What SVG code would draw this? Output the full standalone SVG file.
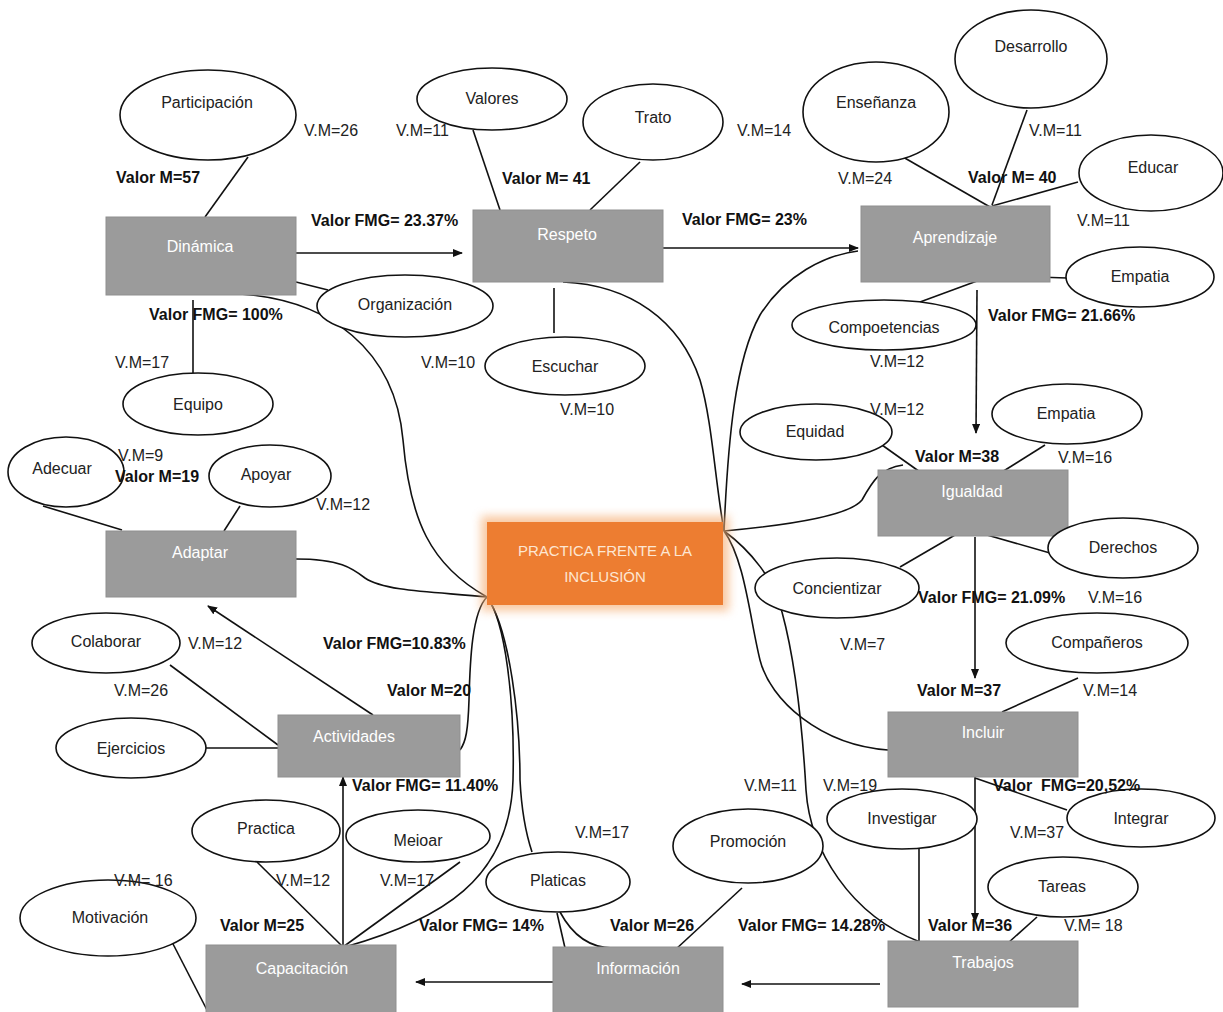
<svg xmlns="http://www.w3.org/2000/svg" width="1223" height="1012" viewBox="0 0 1223 1012">
<style>
  .box{fill:#9b9b9b;stroke:#8f8f8f;stroke-width:1}
  .el{fill:#fff;stroke:#111;stroke-width:1.6}
  .ln{fill:none;stroke:#111;stroke-width:1.6}
  .ar{fill:none;stroke:#111;stroke-width:1.6;marker-end:url(#ah)}
  text{font-family:"Liberation Sans Narrow","Liberation Sans",Arial,sans-serif;font-size:16px}
  .bt{fill:#fff;text-anchor:middle}
  .et{fill:#222;text-anchor:middle}
  .vm{fill:#222}
  .b{fill:#111;font-weight:bold}
  .ct{fill:#fde6d2;text-anchor:middle;font-size:15px}
</style>
<defs>
  <marker id="ah" markerWidth="10" markerHeight="8" refX="9" refY="4" orient="auto" markerUnits="userSpaceOnUse">
    <path d="M0,0 L10,4 L0,8 Z" fill="#111"/>
  </marker>
  <filter id="glow" x="-20%" y="-30%" width="140%" height="160%">
    <feGaussianBlur stdDeviation="5"/>
  </filter>
</defs>
<rect width="1223" height="1012" fill="#fff"/>

<g id="connectors">
  <!-- arrows -->
  <path class="ar" d="M296,253 L462,253"/>
  <path class="ar" d="M663,248 L858,248"/>
  <path class="ar" d="M977,290 L976,433"/>
  <path class="ar" d="M975,537 L975,678"/>
  <path class="ar" d="M975,777 L975,922"/>
  <path class="ar" d="M880,984 L742,984"/>
  <path class="ar" d="M553,982 L416,982"/>
  <path class="ar" d="M343,947 L343,777"/>
  <path class="ar" d="M373,715 L208,606"/>
  <!-- hub curves left -->
  <path class="ln" d="M487,597 C430,565 410,520 403,440 C395,350 330,300 240,294"/>
  <path class="ln" d="M487,597 C440,592 385,592 365,578 C352,568 340,559 296,559"/>
  <path class="ln" d="M487,597 C472,612 470,660 469,700 C468,730 466,742 460,750"/>
  <path class="ln" d="M487,597 C505,620 515,700 513,780 C510,880 440,920 345,947"/>
  <path class="ln" d="M487,597 C510,630 520,720 520,780 C522,820 528,840 532,852"/>
  <!-- hub curves right -->
  <path class="ln" d="M724,531 C715,480 712,420 700,380 C680,320 630,285 563,282"/>
  <path class="ln" d="M724,531 C728,440 735,360 760,315 C785,275 825,255 858,251"/>
  <path class="ln" d="M724,531 C790,525 850,515 862,500 C872,482 880,468 903,465"/>
  <path class="ln" d="M724,531 C745,560 750,620 760,660 C770,700 820,745 888,750"/>
  <path class="ln" d="M724,531 C750,550 775,580 782,612 C795,660 802,720 806,790 C810,850 850,915 920,942"/>
  <!-- spokes -->
  <path class="ln" d="M248,157 L205,217"/>
  <path class="ln" d="M193,300 L193,373"/>
  <path class="ln" d="M296,282 L328,290"/>
  <path class="ln" d="M473,130 L500,210"/>
  <path class="ln" d="M640,162 L590,210"/>
  <path class="ln" d="M554,288 L554,333"/>
  <path class="ln" d="M903,157 L990,207"/>
  <path class="ln" d="M1027,110 L992,205"/>
  <path class="ln" d="M1078,182 L992,206"/>
  <path class="ln" d="M1037,277 L1067,278"/>
  <path class="ln" d="M920,302 L977,281"/>
  <path class="ln" d="M882,445 L920,472"/>
  <path class="ln" d="M1045,445 L1002,472"/>
  <path class="ln" d="M900,567 L967,528"/>
  <path class="ln" d="M987,535 L1050,553"/>
  <path class="ln" d="M1078,678 L1002,712"/>
  <path class="ln" d="M975,778 L1067,810"/>
  <path class="ln" d="M919,849 L919,942"/>
  <path class="ln" d="M1037,917 L1008,943"/>
  <path class="ln" d="M742,888 L675,950"/>
  <path class="ln" d="M557,913 L565,948"/>
  <path class="ln" d="M560,912 C575,940 595,948 613,948"/>
  <path class="ln" d="M257,862 L343,947"/>
  <path class="ln" d="M460,862 L343,947"/>
  <path class="ln" d="M172,942 L207,1010"/>
  <path class="ln" d="M43,506 L122,530"/>
  <path class="ln" d="M240,506 L224,531"/>
  <path class="ln" d="M170,665 L278,745"/>
  <path class="ln" d="M205,748 L278,748"/>
</g>

<g id="n-centro">
  <rect x="481" y="516" width="248" height="95" fill="#f6b27a" opacity="0.7" filter="url(#glow)"/>
  <rect x="487" y="522" width="236" height="83" fill="#ed7d31"/>
  <text class="ct" x="605" y="556">PRACTICA FRENTE A LA</text>
  <text class="ct" x="605" y="582">INCLUSIÓN</text>
</g>

<g id="n-dinamica"><rect class="box" x="106" y="217" width="190" height="78"/><text class="bt" x="200" y="252">Dinámica</text></g>
<g id="n-respeto"><rect class="box" x="473" y="210" width="190" height="72"/><text class="bt" x="567" y="240">Respeto</text></g>
<g id="n-aprendizaje"><rect class="box" x="861" y="206" width="189" height="76"/><text class="bt" x="955" y="243">Aprendizaje</text></g>
<g id="n-igualdad"><rect class="box" x="878" y="470" width="190" height="66"/><text class="bt" x="972" y="497">Igualdad</text></g>
<g id="n-incluir"><rect class="box" x="888" y="712" width="190" height="65"/><text class="bt" x="983" y="738">Incluir</text></g>
<g id="n-trabajos"><rect class="box" x="888" y="941" width="190" height="66"/><text class="bt" x="983" y="968">Trabajos</text></g>
<g id="n-informacion"><rect class="box" x="553" y="947" width="170" height="70"/><text class="bt" x="638" y="974">Información</text></g>
<g id="n-capacitacion"><rect class="box" x="206" y="945" width="190" height="72"/><text class="bt" x="302" y="974">Capacitación</text></g>
<g id="n-actividades"><rect class="box" x="278" y="715" width="182" height="62"/><text class="bt" x="354" y="742">Actividades</text></g>
<g id="n-adaptar"><rect class="box" x="106" y="531" width="190" height="66"/><text class="bt" x="200" y="558">Adaptar</text></g>

<g id="n-participacion"><ellipse class="el" cx="208" cy="115" rx="88" ry="45"/><text class="et" x="207" y="108">Participación</text></g>
<g id="n-valores"><ellipse class="el" cx="492" cy="99" rx="75" ry="31"/><text class="et" x="492" y="104">Valores</text></g>
<g id="n-trato"><ellipse class="el" cx="653" cy="122" rx="70" ry="38"/><text class="et" x="653" y="123">Trato</text></g>
<g id="n-organizacion"><ellipse class="el" cx="405" cy="306" rx="88" ry="31"/><text class="et" x="405" y="310">Organización</text></g>
<g id="n-equipo"><ellipse class="el" cx="198" cy="404" rx="75" ry="31"/><text class="et" x="198" y="410">Equipo</text></g>
<g id="n-escuchar"><ellipse class="el" cx="565" cy="366" rx="80" ry="29"/><text class="et" x="565" y="372">Escuchar</text></g>
<g id="n-ensenanza"><ellipse class="el" cx="876" cy="112" rx="73" ry="50"/><text class="et" x="876" y="108">Enseñanza</text></g>
<g id="n-desarrollo"><ellipse class="el" cx="1031" cy="59" rx="76" ry="49"/><text class="et" x="1031" y="52">Desarrollo</text></g>
<g id="n-educar"><ellipse class="el" cx="1151" cy="173" rx="72" ry="38"/><text class="et" x="1153" y="173">Educar</text></g>
<g id="n-empatia1"><ellipse class="el" cx="1140" cy="277" rx="74" ry="30"/><text class="et" x="1140" y="282">Empatia</text></g>
<g id="n-competencias"><ellipse class="el" cx="884" cy="325" rx="92" ry="25"/><text class="et" x="884" y="333">Compoetencias</text></g>
<g id="n-equidad"><ellipse class="el" cx="816" cy="432" rx="76" ry="28"/><text class="et" x="815" y="437">Equidad</text></g>
<g id="n-empatia2"><ellipse class="el" cx="1067" cy="414" rx="75" ry="30"/><text class="et" x="1066" y="419">Empatia</text></g>
<g id="n-derechos"><ellipse class="el" cx="1123" cy="548" rx="75" ry="30"/><text class="et" x="1123" y="553">Derechos</text></g>
<g id="n-concientizar"><ellipse class="el" cx="837" cy="588" rx="82" ry="30"/><text class="et" x="837" y="594">Concientizar</text></g>
<g id="n-companeros"><ellipse class="el" cx="1097" cy="643" rx="91" ry="30"/><text class="et" x="1097" y="648">Compañeros</text></g>
<g id="n-integrar"><ellipse class="el" cx="1141" cy="818" rx="74" ry="29"/><text class="et" x="1141" y="824">Integrar</text></g>
<g id="n-investigar"><ellipse class="el" cx="902" cy="819" rx="75" ry="30"/><text class="et" x="902" y="824">Investigar</text></g>
<g id="n-tareas"><ellipse class="el" cx="1063" cy="887" rx="75" ry="30"/><text class="et" x="1062" y="892">Tareas</text></g>
<g id="n-promocion"><ellipse class="el" cx="748" cy="846" rx="75" ry="37"/><text class="et" x="748" y="847">Promoción</text></g>
<g id="n-platicas"><ellipse class="el" cx="558" cy="882" rx="72" ry="30"/><text class="et" x="558" y="886">Platicas</text></g>
<g id="n-meioar"><ellipse class="el" cx="418" cy="836" rx="72" ry="26"/><text class="et" x="418" y="846">Meioar</text></g>
<g id="n-practica"><ellipse class="el" cx="266" cy="831" rx="74" ry="31"/><text class="et" x="266" y="834">Practica</text></g>
<g id="n-motivacion"><ellipse class="el" cx="108" cy="918" rx="88" ry="38"/><text class="et" x="110" y="923">Motivación</text></g>
<g id="n-colaborar"><ellipse class="el" cx="106" cy="643" rx="74" ry="30"/><text class="et" x="106" y="647">Colaborar</text></g>
<g id="n-ejercicios"><ellipse class="el" cx="131" cy="748" rx="75" ry="30"/><text class="et" x="131" y="754">Ejercicios</text></g>
<g id="n-adecuar"><ellipse class="el" cx="66" cy="472" rx="58" ry="35"/><text class="et" x="62" y="474">Adecuar</text></g>
<g id="n-apoyar"><ellipse class="el" cx="270" cy="476" rx="61" ry="31"/><text class="et" x="266" y="480">Apoyar</text></g>

<g id="labels">
  <text class="vm" x="304" y="136">V.M=26</text>
  <text class="vm" x="396" y="136">V.M=11</text>
  <text class="b" x="116" y="183">Valor M=57</text>
  <text class="b" x="311" y="226">Valor FMG= 23.37%</text>
  <text class="b" x="502" y="184">Valor M= 41</text>
  <text class="vm" x="737" y="136">V.M=14</text>
  <text class="b" x="682" y="225">Valor FMG= 23%</text>
  <text class="vm" x="838" y="184">V.M=24</text>
  <text class="vm" x="1029" y="136">V.M=11</text>
  <text class="b" x="968" y="183">Valor M= 40</text>
  <text class="vm" x="1077" y="226">V.M=11</text>
  <text class="b" x="988" y="321">Valor FMG= 21.66%</text>
  <text class="vm" x="870" y="367">V.M=12</text>
  <text class="vm" x="870" y="415">V.M=12</text>
  <text class="b" x="915" y="462">Valor M=38</text>
  <text class="vm" x="1058" y="463">V.M=16</text>
  <text class="b" x="918" y="603">Valor FMG= 21.09%</text>
  <text class="vm" x="1088" y="603">V.M=16</text>
  <text class="vm" x="840" y="650">V.M=7</text>
  <text class="b" x="917" y="696">Valor M=37</text>
  <text class="vm" x="1083" y="696">V.M=14</text>
  <text class="b" x="993" y="791" xml:space="preserve">Valor  FMG=20,52%</text>
  <text class="vm" x="744" y="791">V.M=11</text>
  <text class="vm" x="823" y="791">V.M=19</text>
  <text class="vm" x="1010" y="838">V.M=37</text>
  <text class="vm" x="575" y="838">V.M=17</text>
  <text class="b" x="928" y="931">Valor M=36</text>
  <text class="vm" x="1064" y="931">V.M= 18</text>
  <text class="b" x="738" y="931">Valor FMG= 14.28%</text>
  <text class="b" x="610" y="931">Valor M=26</text>
  <text class="b" x="419" y="931">Valor FMG= 14%</text>
  <text class="b" x="220" y="931">Valor M=25</text>
  <text class="vm" x="276" y="886">V.M=12</text>
  <text class="vm" x="380" y="886">V.M=17</text>
  <text class="vm" x="114" y="886">V.M= 16</text>
  <text class="b" x="352" y="791">Valor FMG= 11.40%</text>
  <text class="b" x="387" y="696">Valor M=20</text>
  <text class="b" x="323" y="649">Valor FMG=10.83%</text>
  <text class="vm" x="188" y="649">V.M=12</text>
  <text class="vm" x="114" y="696">V.M=26</text>
  <text class="vm" x="118" y="461">V.M=9</text>
  <text class="b" x="115" y="482">Valor M=19</text>
  <text class="vm" x="316" y="510">V.M=12</text>
  <text class="vm" x="115" y="368">V.M=17</text>
  <text class="b" x="149" y="320">Valor FMG= 100%</text>
  <text class="vm" x="421" y="368">V.M=10</text>
  <text class="vm" x="560" y="415">V.M=10</text>
</g>
</svg>
